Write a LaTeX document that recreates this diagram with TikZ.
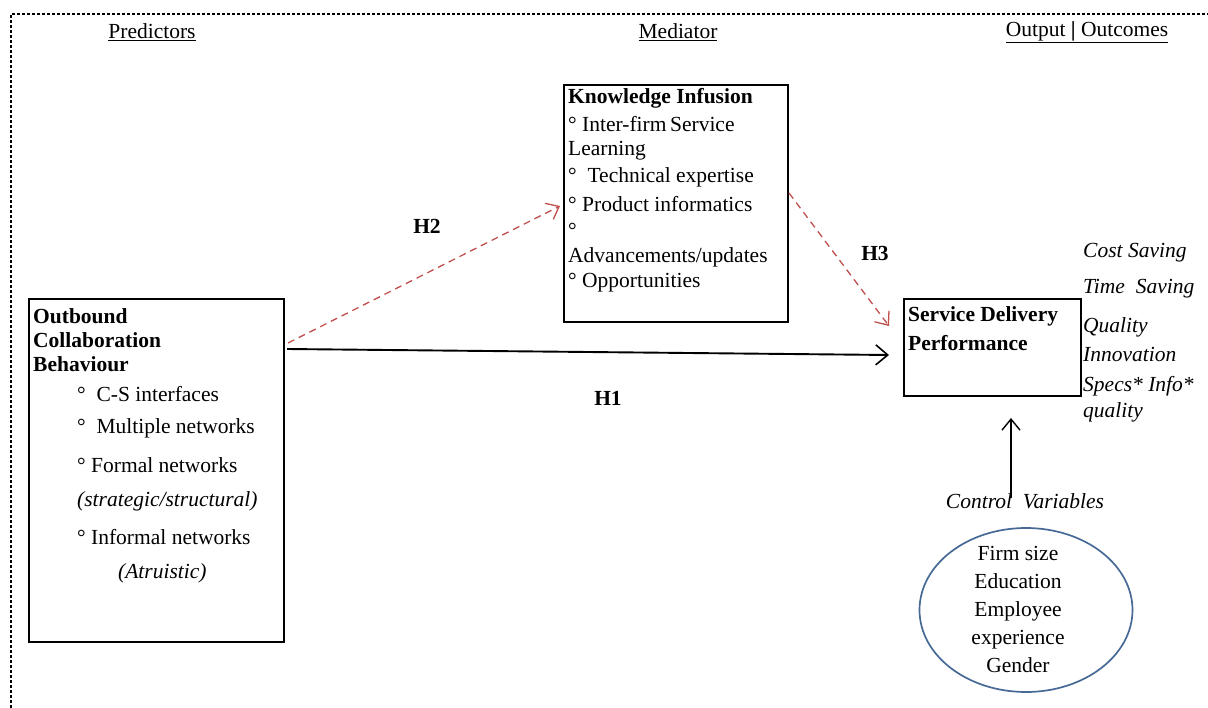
\documentclass[tikz,border=0pt]{standalone}
\usepackage{fontspec}
\setmainfont{Liberation Serif}
\usetikzlibrary{arrows.meta,shapes.geometric}
\definecolor{hred}{RGB}{192,80,77}
\definecolor{eblue}{RGB}{70,105,150}
\begin{document}
\begin{tikzpicture}[x=1pt,y=-1pt,
  every node/.style={font=\fontsize{21.5}{26}\selectfont},
  box/.style={draw,line width=1.9pt,inner sep=0pt,anchor=north west},
  txt/.style={inner sep=0pt,anchor=west},
  ctxt/.style={inner sep=0pt},
  frame/.style={line width=1.4pt,dash pattern=on 3pt off 2pt},
  hyp/.style={hred,line width=1.3pt,dash pattern=on 7pt off 5pt,-{Straight Barb[length=11pt,width=18pt,line width=1.3pt]}},
  solid arrow/.style={line width=1.9pt,-{Straight Barb[length=12pt,width=20pt,line width=1.6pt]}}]
\useasboundingbox (0,0) rectangle (1208,708);
% frame
\coordinate (ftl) at (11,14);
\coordinate (ftr) at (1208,14);
\coordinate (fbl) at (11,708);
\draw[frame] (fbl) -- (ftl) -- (ftr);
% headings
\node[ctxt] (hp) at (152,32) {\underline{Predictors}};
\node[ctxt] (hm) at (678,32) {\underline{Mediator}};
\node[ctxt] (ho) at (1087,32) {\underline{Output \textbf{|} Outcomes}};
% OCB box
\node[box,minimum width=255pt,minimum height=343pt] (ocb) at (28,298) {};
\node[txt] (o1) at (33,316) {\textbf{Outbound}};
\node[txt] (o2) at (33,340) {\textbf{Collaboration}};
\node[txt] (o3) at (33,364) {\textbf{Behaviour}};
\node[txt] (o4) at (77,394) {°\ \ C-S interfaces};
\node[txt] (o5) at (77,428) {°\ \ Multiple networks};
\node[txt] (o6) at (77,465) {°\ Formal networks};
\node[txt] (o7) at (77,501) {\textit{(strategic/structural)}};
\node[txt] (o8) at (77,537) {°\ Informal networks};
\node[txt] (o9) at (118,573) {\textit{(Atruistic)}};
% Knowledge box
\node[box,minimum width=224pt,minimum height=237pt] (ki) at (563,84) {};
\node[txt] (k1) at (568,98) {\textbf{Knowledge\ Infusion}};
\node[txt] (k2) at (568,124) {°\ Inter-firm\,Service};
\node[txt] (k3) at (568,151) {Learning};
\node[txt] (k4) at (568,177) {°\ \ Technical expertise};
\node[txt] (k5) at (568,204) {°\ Product informatics};
\node[txt] (k6) at (568,230) {°};
\node[txt] (k7) at (568,257) {Advancements/updates};
\node[txt] (k8) at (568,283) {°\ Opportunities};
% SDP box
\node[box,minimum width=177pt,minimum height=97pt] (sdp) at (903,298) {};
\node[txt] (s1) at (908,316) {\textbf{Service Delivery}};
\node[txt] (s2) at (908,343) {\textbf{Performance}};
% outcomes
\node[txt] (r1) at (1083,253) {\textit{Cost Saving}};
\node[txt] (r2) at (1083,289) {\textit{Time\ \ Saving}};
\node[txt] (r3) at (1083,327) {\textit{Quality}};
\node[txt] (r4) at (1083,354) {\textit{Innovation}};
\node[txt] (r5) at (1083,386) {\textit{Specs* Info*}};
\node[txt] (r6) at (1083,412) {\textit{quality}};
% hypotheses labels
\node[ctxt] (h2) at (427,226) {\textbf{H2}};
\node[ctxt] (h3) at (875,253) {\textbf{H3}};
\node[ctxt] (h1) at (608,398) {\textbf{H1}};
% arrows
\coordinate (h2s) at (288,343);
\coordinate (h2e) at (560,206);
\coordinate (h3s) at (789,193);
\coordinate (h3e) at (889,326);
\coordinate (h1s) at (287,349);
\coordinate (h1e) at (889,355);
\draw[hyp] (h2s) -- (h2e);
\draw[hyp] (h3s) -- (h3e);
\draw[solid arrow] (h1s) -- (h1e);
% control variables
\node[ctxt] (cv) at (1025,501) {\textit{Control\ \ Variables}};
\coordinate (cvs) at (1011,498);
\coordinate (cve) at (1011,418);
\draw[line width=1.6pt,-{Straight Barb[length=11pt,width=18pt,line width=1.4pt]}] (cvs) -- (cve);
\node[draw=eblue,line width=1.7pt,ellipse,minimum width=213pt,minimum height=164pt,inner sep=0pt] (ctrl) at (1026,610) {};
\node[ctxt,align=center,font=\fontsize{21.5}{28}\selectfont] (ct) at (1018,609) {Firm size\\Education\\Employee\\experience\\Gender};
\end{tikzpicture}
\end{document}
